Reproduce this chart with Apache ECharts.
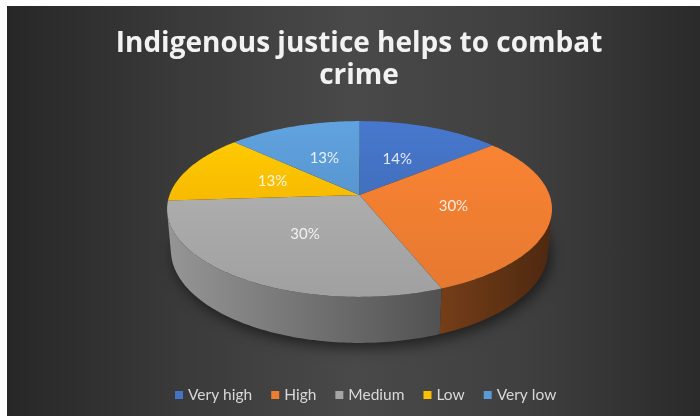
<!DOCTYPE html>
<html>
<head>
<meta charset="utf-8">
<script src="https://cdn.jsdelivr.net/npm/echarts@6/dist/echarts.min.js"></script>
<style>
  html, body { margin: 0; padding: 0; background: #ffffff; }
  #chart {
    position: absolute; left: 7px; top: 6px; width: 693px; height: 410px;
    background: linear-gradient(to right, #272727 0%, #3a3a3a 25%, #494949 50%, #3f3f3f 75%, #2a2a2a 100%);
  }
</style>
</head>
<body>
<div id="chart"></div>
<script>
// Survey answers: "Indigenous justice helps to combat crime"
const categories = ['Very high', 'High', 'Medium', 'Low', 'Very low'];
const shares = [14, 30, 30, 13, 13];
const palette = ['#4472C4', '#ED7D31', '#A5A5A5', '#FFC000', '#5B9BD5'];
const titleLines = ['Indigenous justice helps to combat', 'crime'];

const TWO_PI = Math.PI * 2;
const total = shares.reduce((a, b) => a + b, 0);
const startOf = shares.map((_, i) => shares.slice(0, i).reduce((a, b) => a + b, 0));

// Tilted disc of unit radius viewed in perspective
const TILT = 26.8 * Math.PI / 180;
const S = Math.sin(TILT), C = Math.cos(TILT);
const DIST = 5.61;       // camera distance, in radii
const THICK = 0.2455;    // disc thickness, in radii
const SIDE_LIMIT = Math.acos(-1 / (DIST * C)); // rim angles where the wall faces the viewer

function shade(hex, f) {
  const n = parseInt(hex.slice(1), 16);
  const r = Math.min(255, Math.round(((n >> 16) & 255) * f));
  const g = Math.min(255, Math.round(((n >> 8) & 255) * f));
  const b = Math.min(255, Math.round((n & 255) * f));
  return 'rgb(' + r + ',' + g + ',' + b + ')';
}

function makeProjector(api) {
  const W = api.getWidth(), H = api.getHeight();
  const cx = W * 0.5087, cy = H * 0.461;
  const focal = W * 1.538;
  return function (theta, r, h) {
    const u = r * Math.sin(theta), v = r * Math.cos(theta);
    const y = v * S - h * C;
    const z = DIST + v * C + h * S;
    return [cx + focal * u / z, cy - focal * y / z];
  };
}

function arc(proj, a0, a1, r, h) {
  const n = Math.max(2, Math.ceil((a1 - a0) / (Math.PI / 180)));
  const pts = [];
  for (let k = 0; k <= n; k++) pts.push(proj(a0 + (a1 - a0) * k / n, r, h));
  return pts;
}

function renderSlice(params, api) {
  const i = params.seriesIndex;
  const proj = makeProjector(api);
  const value = api.value(0);
  const a0 = startOf[i] / total * TWO_PI;
  const a1 = (startOf[i] + value) / total * TWO_PI;
  const base = palette[i];
  const children = [];

  if (i === 0) {
    // soft drop shadow beneath the whole disc
    children.push({
      type: 'polygon',
      z2: -10,
      shape: { points: arc(proj, 0, TWO_PI, 1, THICK) },
      style: {
        fill: '#202020',
        shadowBlur: 14,
        shadowColor: 'rgba(0,0,0,0.55)',
        shadowOffsetX: 3,
        shadowOffsetY: 5
      }
    });
  }

  // outer wall (only the part turned towards the viewer)
  const s0 = Math.max(a0, SIDE_LIMIT), s1 = Math.min(a1, TWO_PI - SIDE_LIMIT);
  if (s1 > s0) {
    const pts = arc(proj, s0, s1, 1, 0).concat(arc(proj, s0, s1, 1, THICK).reverse());
    const xl = proj(1.5 * Math.PI, 1, 0)[0], xr = proj(0.5 * Math.PI, 1, 0)[0];
    children.push({
      type: 'polygon',
      z2: 0,
      shape: { points: pts },
      style: {
        fill: new echarts.graphic.LinearGradient(xl, 0, xr, 0, [
          { offset: 0, color: shade(base, 0.9) },
          { offset: 1, color: shade(base, 0.33) }
        ], true)
      }
    });
  }

  // top face
  children.push({
    type: 'polygon',
    z2: 1,
    shape: { points: [proj(0, 0, 0)].concat(arc(proj, a0, a1, 1, 0)) },
    style: {
      fill: new echarts.graphic.LinearGradient(0, 0, 0, 1, [
        { offset: 0, color: shade(base, 1.05) },
        { offset: 1, color: shade(base, 0.97) }
      ])
    }
  });

  // percentage label
  const lp = proj((a0 + a1) / 2, 0.5, 0);
  children.push({
    type: 'text',
    z2: 5,
    x: lp[0], y: lp[1],
    style: {
      text: Math.round(value / total * 100) + '%',
      fill: 'rgba(255,255,255,0.85)',
      fontFamily: 'Lato',
      fontSize: 15,
      align: 'center',
      verticalAlign: 'middle'
    }
  });

  return { type: 'group', children: children };
}

const chart = echarts.init(document.getElementById('chart'), null, { renderer: 'canvas' });
chart.setOption({
  animation: false,
  title: {
    text: titleLines.join('\n'),
    left: 352,
    top: 22,
    textAlign: 'center',
    padding: 0,
    textStyle: {
      color: '#f2f2f2',
      fontFamily: 'Open Sans',
      fontWeight: 'bold',
      fontSize: 28,
      lineHeight: 32
    }
  },
  legend: {
    left: 163,
    top: 376,
    icon: 'rect',
    itemWidth: 8,
    itemHeight: 8,
    itemGap: 19,
    selectedMode: false,
    textStyle: { color: '#d9d9d9', fontFamily: 'Lato', fontSize: 15.5 },
    data: categories
  },
  series: categories.map((name, i) => ({
    type: 'custom',
    name: name,
    coordinateSystem: 'none',
    itemStyle: { color: palette[i] },
    renderItem: renderSlice,
    data: [[shares[i]]]
  }))
});
</script>
</body>
</html>
